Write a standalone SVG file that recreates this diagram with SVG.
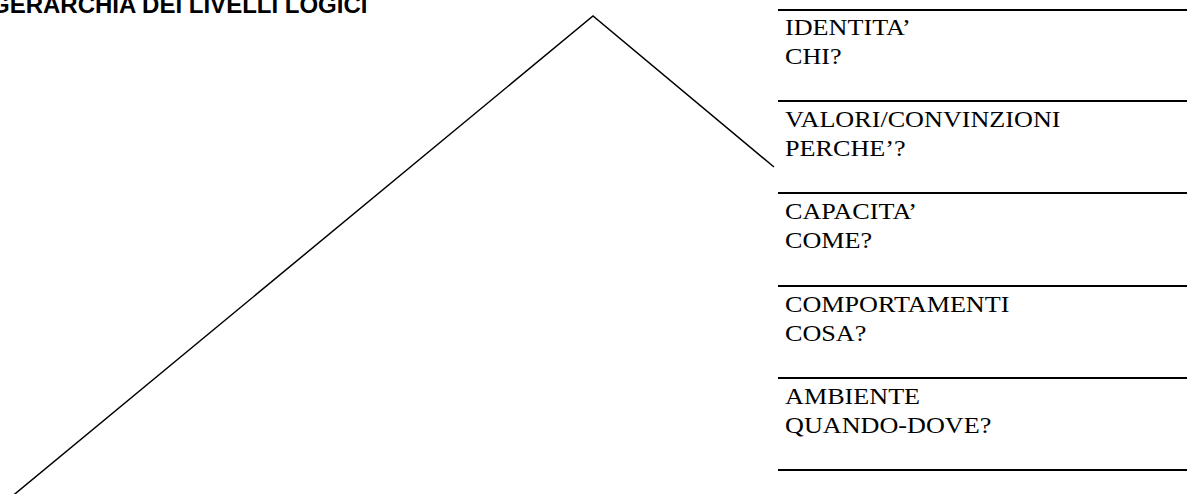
<svg xmlns="http://www.w3.org/2000/svg" width="1187" height="494" viewBox="0 0 1187 494">
<style>
.rule{stroke:#000;stroke-width:2;fill:none}
.peak{stroke:#000;stroke-width:1.5;fill:none}
.lbl{font-family:"Liberation Serif","Times New Roman",serif;font-size:24px;fill:#000}
.title{font-family:"Liberation Sans",Arial,sans-serif;font-size:24px;font-weight:bold;fill:#000}
</style>
<rect width="1187" height="494" fill="#fff"/>
<text class="title" x="-9" y="12.5">GERARCHIA DEI LIVELLI LOGICI</text>
<g id="connectors">
<polyline class="peak" points="10,498 593,16 774,167"/>
</g>
<g id="identita">
<line class="rule" x1="778" y1="10" x2="1187" y2="10"/>
<g transform="translate(785,0) scale(1.09,1)">
<text class="lbl" x="0" y="35">IDENTITA’</text>
<text class="lbl" x="0" y="64">CHI?</text>
</g>
</g>
<g id="valori">
<line class="rule" x1="778" y1="101" x2="1187" y2="101"/>
<g transform="translate(785,0) scale(1.09,1)">
<text class="lbl" x="0" y="127">VALORI/CONVINZIONI</text>
<text class="lbl" x="0" y="156">PERCHE’?</text>
</g>
</g>
<g id="capacita">
<line class="rule" x1="778" y1="193" x2="1187" y2="193"/>
<g transform="translate(785,0) scale(1.09,1)">
<text class="lbl" x="0" y="219">CAPACITA’</text>
<text class="lbl" x="0" y="248">COME?</text>
</g>
</g>
<g id="comportamenti">
<line class="rule" x1="778" y1="286" x2="1187" y2="286"/>
<g transform="translate(785,0) scale(1.09,1)">
<text class="lbl" x="0" y="312">COMPORTAMENTI</text>
<text class="lbl" x="0" y="341">COSA?</text>
</g>
</g>
<g id="ambiente">
<line class="rule" x1="778" y1="378" x2="1187" y2="378"/>
<g transform="translate(785,0) scale(1.09,1)">
<text class="lbl" x="0" y="404">AMBIENTE</text>
<text class="lbl" x="0" y="433">QUANDO-DOVE?</text>
</g>
</g>
<g id="base">
<line class="rule" x1="778" y1="470" x2="1187" y2="470"/>
</g>
</svg>
